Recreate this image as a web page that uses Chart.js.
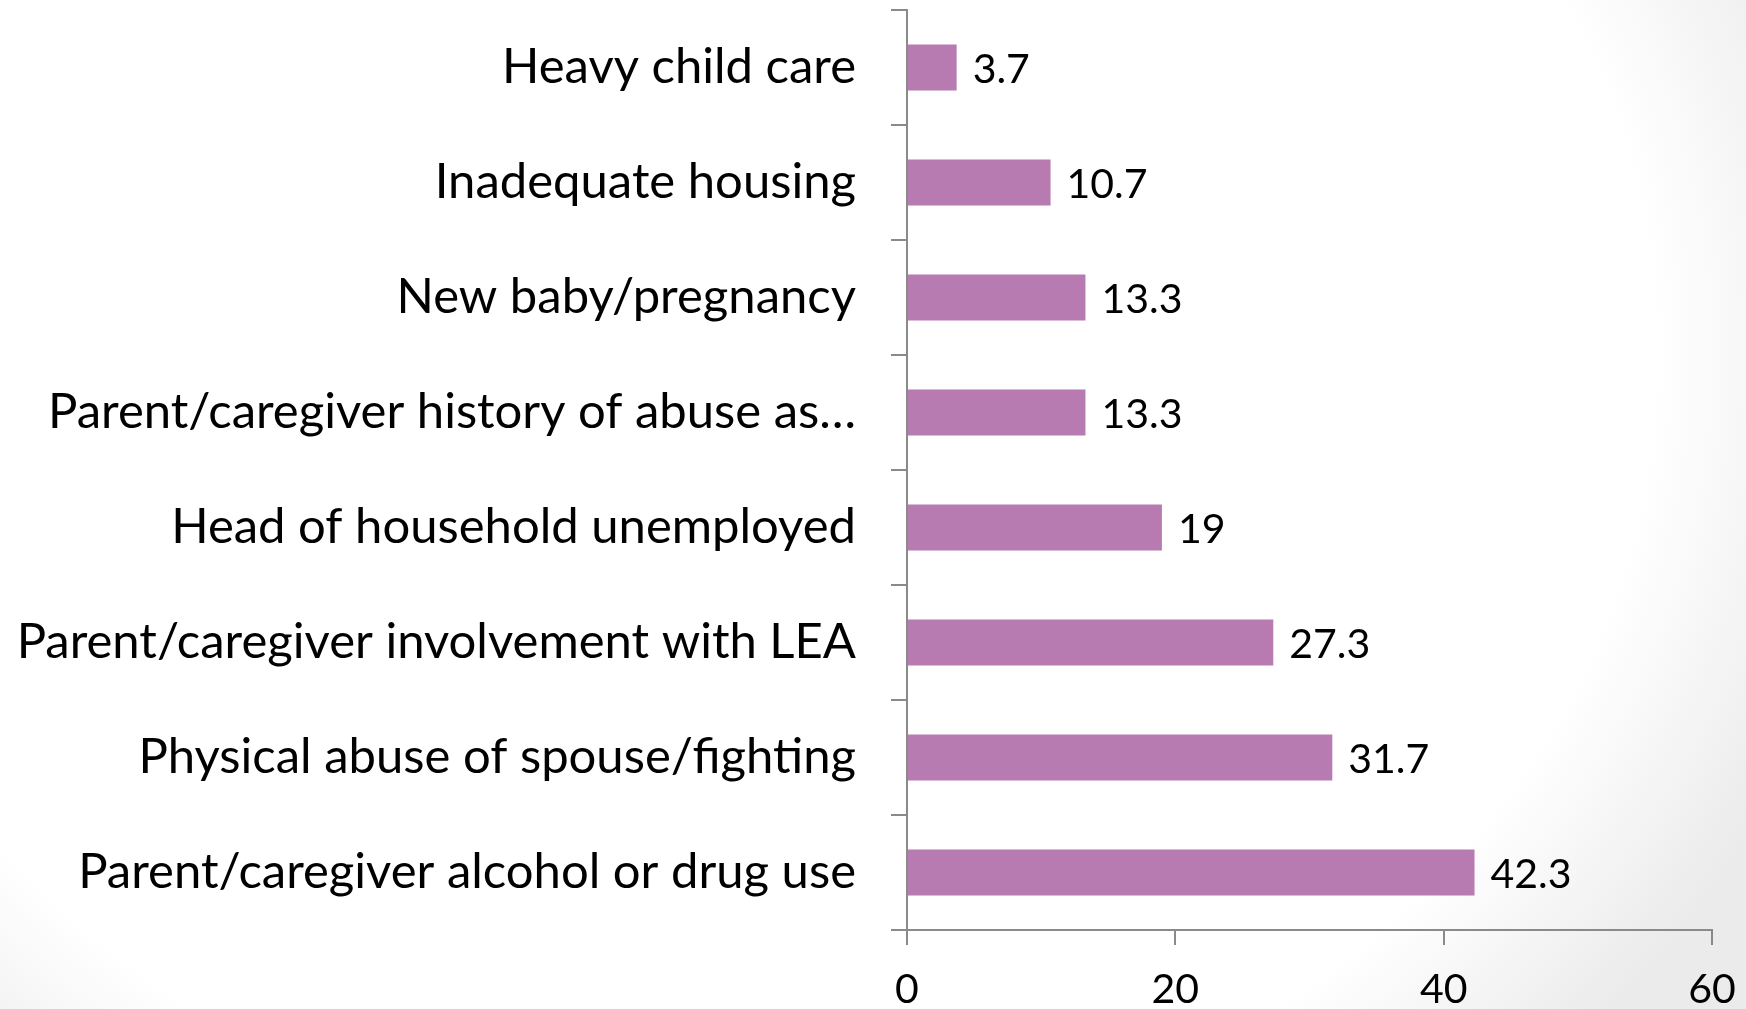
<!DOCTYPE html>
<html>
<head>
<meta charset="utf-8">
<script src="https://cdn.jsdelivr.net/npm/chart.js@4.4.0/dist/chart.umd.min.js"></script>
<style>
  html, body { margin: 0; padding: 0; }
  body {
    width: 1746px; height: 1009px; overflow: hidden;
    background: radial-gradient(ellipse 66% 100% at 42% 35%, #ffffff 80%, #ebebeb 100%);
  }
  #wrap { position: absolute; left: 0; top: 0; width: 1746px; height: 1009px; }
</style>
</head>
<body>
<div id="wrap"><canvas id="riskChart"></canvas></div>
<script>
// categories, top to bottom as shown
const categories = [
    'Heavy child care',
    'Inadequate housing',
    'New baby/pregnancy',
    'Parent/caregiver history of abuse as…',
    'Head of household unemployed',
    'Parent/caregiver involvement with LEA',
    'Physical abuse of spouse/fighting',
    'Parent/caregiver alcohol or drug use'
];
const percentValues = [3.7, 10.7, 13.3, 13.3, 19, 27.3, 31.7, 42.3];
const xTickValues = [0, 20, 40, 60];

const FONT = 'Lato, "Open Sans", sans-serif';
const barColor = '#b77bb2';
const axisColor = '#8a8a8a';

// fit font size to the widths seen in the picture
function fitSize(text, targetWidth) {
    const c = document.createElement('canvas').getContext('2d');
    c.font = '100px ' + FONT;
    return Math.round(100 * targetWidth / c.measureText(text).width);
}
const labelSize = fitSize('Parent/caregiver involvement with LEA', 845);
const numberSize = fitSize('42.3', 81);

// draws the value next to each bar
const valueLabels = {
    id: 'valueLabels',
    afterDatasetsDraw(chart) {
        const ctx = chart.ctx;
        const meta = chart.getDatasetMeta(0);
        ctx.save();
        ctx.font = numberSize + 'px ' + FONT;
        ctx.fillStyle = '#000';
        ctx.textAlign = 'left';
        ctx.textBaseline = 'middle';
        meta.data.forEach((bar, i) => {
            ctx.fillText(String(percentValues[i]), bar.x + 16, bar.y + 2);
        });
        ctx.restore();
    }
};

const ctx = document.getElementById('riskChart').getContext('2d');
new Chart(ctx, {
    type: 'bar',
    data: {
        labels: categories,
        datasets: [{
            data: percentValues,
            backgroundColor: barColor,
            borderWidth: 0,
            categoryPercentage: 1,
            barPercentage: 0.4
        }]
    },
    options: {
        indexAxis: 'y',
        responsive: true,
        maintainAspectRatio: false,
        animation: false,
        layout: { padding: { top: 10, right: 34, left: 0, bottom: 0 } },
        plugins: {
            legend: { display: false },
            tooltip: { enabled: false }
        },
        scales: {
            y: {
                grid: {
                    offset: true,
                    drawOnChartArea: false,
                    tickLength: 16,
                    color: axisColor,
                    lineWidth: 2
                },
                border: { color: axisColor, width: 2 },
                ticks: {
                    color: '#000',
                    padding: 35,
                    font: { family: FONT, size: labelSize }
                },
                afterFit(scale) {
                    scale.width = 907;
                    scale.paddingTop = 0;
                    scale.paddingBottom = 0;
                }
            },
            x: {
                min: 0,
                max: 60,
                afterBuildTicks(scale) {
                    scale.ticks = xTickValues.map(v => ({ value: v }));
                },
                grid: {
                    drawOnChartArea: false,
                    tickLength: 15,
                    color: axisColor,
                    lineWidth: 2
                },
                border: { color: axisColor, width: 2 },
                ticks: {
                    color: '#000',
                    padding: 20,
                    font: { family: FONT, size: numberSize }
                },
                afterFit(scale) {
                    scale.height = 79;
                    scale.paddingLeft = 0;
                    scale.paddingRight = 0;
                }
            }
        }
    },
    plugins: [valueLabels]
});
</script>
</body>
</html>
